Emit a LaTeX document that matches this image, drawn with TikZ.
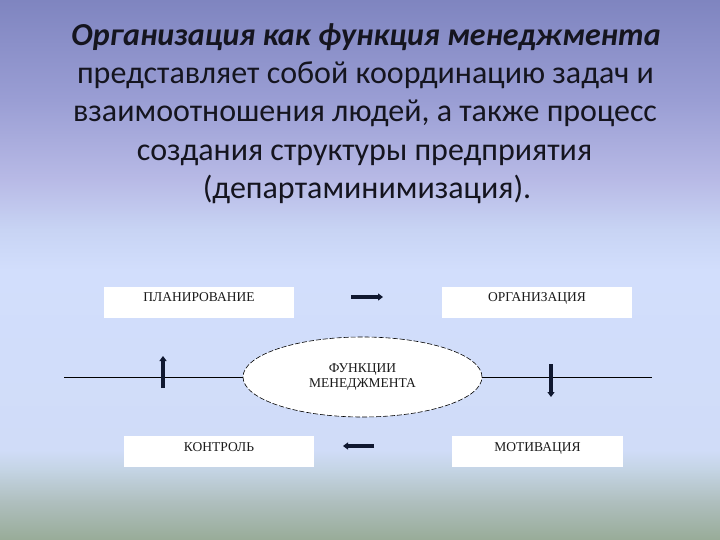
\documentclass[tikz,border=0pt]{standalone}
\usepackage{fontspec}
\setmainfont{Liberation Serif}
\newfontfamily\titlefont{Carlito}
\usetikzlibrary{arrows.meta,shapes.geometric}
\definecolor{bgA}{HTML}{98AC98}
\definecolor{bgB}{HTML}{B0C0C0}
\definecolor{bgC}{HTML}{C4D4E4}
\definecolor{bgD}{HTML}{D0DCF8}
\definecolor{bgE}{HTML}{D2DEFC}
\definecolor{bgF}{HTML}{C8D4F4}
\definecolor{bgG}{HTML}{B8BAE6}
\definecolor{bgH}{HTML}{9A9ED4}
\definecolor{bgI}{HTML}{7F85C0}
\definecolor{titlecol}{HTML}{15151F}
\definecolor{boxtext}{HTML}{1A1A1A}
\definecolor{arrowcol}{HTML}{101830}
\tikzset{
  titleline/.style={anchor=base, inner sep=0pt, text=titlecol, font=\titlefont\fontsize{32}{38}\selectfont},
  fbox/.style={fill=white, minimum height=31pt, inner sep=0pt, text=boxtext, text height=8.5pt, text depth=10.5pt, font=\fontsize{13.5}{15}\selectfont},
  fellipse/.style={ellipse, draw=black, line width=0.6pt, dash pattern=on 5pt off 2pt, fill=white, minimum width=239pt, minimum height=80pt, inner sep=0pt, align=center, text=boxtext, font=\fontsize{13.5}{14.5}\selectfont},
  axisline/.style={draw=black, line width=0.8pt},
  fatarrow/.style={draw=arrowcol, line width=3.4pt, -{Triangle[length=5pt,width=7pt]}},
  bgband/.style={draw=none}
}
\begin{document}
\begin{tikzpicture}[x=1pt,y=-1pt]
% background gradient
\shade[bgband, top color=bgI, bottom color=bgH] (0,0) rectangle (720,100.5);
\shade[bgband, top color=bgH, bottom color=bgG] (0,100) rectangle (720,180.5);
\shade[bgband, top color=bgG, bottom color=bgF] (0,180) rectangle (720,230.5);
\shade[bgband, top color=bgF, bottom color=bgE] (0,230) rectangle (720,270.5);
\shade[bgband, top color=bgE, bottom color=bgD] (0,270) rectangle (720,450.5);
\shade[bgband, top color=bgD, bottom color=bgC] (0,450) rectangle (720,470.5);
\shade[bgband, top color=bgC, bottom color=bgB] (0,470) rectangle (720,500.5);
\shade[bgband, top color=bgB, bottom color=bgA] (0,500) rectangle (720,540);
\useasboundingbox (0,0) rectangle (720,540);
% title
\node[titleline] (t1) at (366,45.5) {\bfseries\itshape Организация как функция менеджмента};
\node[titleline] (t2) at (365.5,83.5) {представляет собой координацию задач и};
\node[titleline] (t3) at (365,122) {взаимоотношения людей, а также процесс};
\node[titleline] (t4) at (364.5,160.5) {создания структуры предприятия};
\node[titleline] (t5) at (367,199) {(департаминимизация).};
% boxes
\node[fbox, minimum width=190pt] (plan) at (199,302.5) {ПЛАНИРОВАНИЕ};
\node[fbox, minimum width=190pt] (org) at (537,302.5) {ОРГАНИЗАЦИЯ};
\node[fbox, minimum width=190pt, text depth=9pt] (ctrl) at (219,451.5) {КОНТРОЛЬ};
\node[fbox, minimum width=171pt, text depth=9pt] (motiv) at (537.5,451.5) {МОТИВАЦИЯ};
% ellipse
\node[fellipse] (fm) at (362.5,377) {ФУНКЦИИ\\МЕНЕДЖМЕНТА};
% horizontal line
\coordinate (lL) at (64,377);
\coordinate (lR) at (652,377);
\draw[axisline] (lL) -- (fm.west);
\draw[axisline] (fm.east) -- (lR);
% arrows
\coordinate (a1s) at (351,297); \coordinate (a1e) at (383,297);
\coordinate (a2s) at (551,364); \coordinate (a2e) at (551,397);
\coordinate (a3s) at (374,446); \coordinate (a3e) at (343,446);
\coordinate (a4s) at (163,388); \coordinate (a4e) at (163,356);
\draw[fatarrow] (a1s) -- (a1e);
\draw[fatarrow] (a2s) -- (a2e);
\draw[fatarrow] (a3s) -- (a3e);
\draw[fatarrow] (a4s) -- (a4e);
\end{tikzpicture}
\end{document}
